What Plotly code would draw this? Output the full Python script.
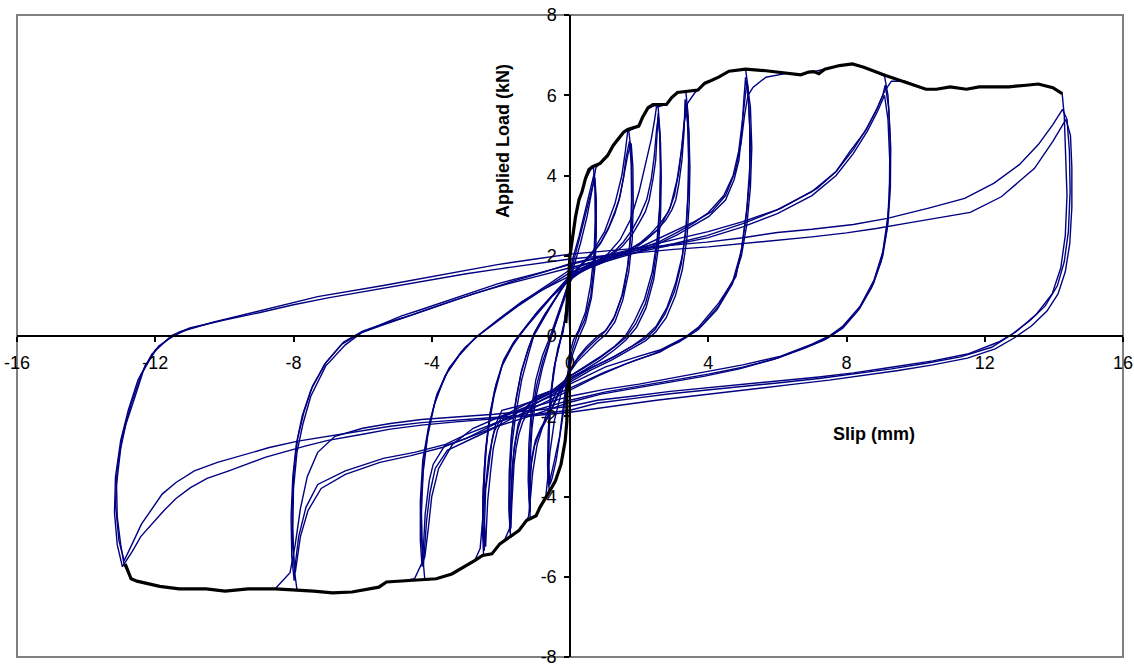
import plotly.graph_objects as go

# ---------------------------------------------------------------------------
# Cyclic slip test: load-slip hysteresis loops (slip in mm, load in kN).
# Each cycle is a list of (slip, load) readings.
# ---------------------------------------------------------------------------

# Level 1 (about +0.7 / -0.6 mm)
cycle_1a = [(0, 0), (-0.05, 1.0), (0.0, 2.0), (0.16, 2.97), (0.3, 3.5), (0.45, 3.9), (0.6, 4.15), (0.68, 4.2),
            (0.72, 3.7), (0.73, 2.9), (0.7, 2.1), (0.6, 1.3), (0.45, 0.6), (0.25, 0.15), (0.1, -0.1),
            (-0.03, -0.5), (-0.05, -0.92), (-0.09, -1.5), (-0.09, -2.12), (-0.14, -2.62), (-0.26, -3.2),
            (-0.42, -3.61), (-0.6, -3.9), (-0.63, -3.4), (-0.62, -2.6), (-0.58, -1.7), (-0.48, -0.9),
            (-0.35, -0.3), (-0.2, 0.1), (-0.1, 0.7), (0.0, 1.5)]
cycle_1b = [(0.0, 1.5), (0.07, 1.9), (0.26, 2.48), (0.45, 3.14), (0.6, 3.72), (0.7, 4.05),
            (0.74, 3.5), (0.74, 2.6), (0.7, 1.8), (0.6, 1.0), (0.42, 0.4), (0.2, 0.0), (0.05, -0.4),
            (-0.1, -1.1), (-0.2, -1.8), (-0.3, -2.5), (-0.45, -3.1), (-0.55, -3.5), (-0.62, -3.75),
            (-0.65, -3.2), (-0.63, -2.4), (-0.57, -1.5), (-0.45, -0.75), (-0.3, -0.2), (-0.17, 0.3),
            (-0.1, 0.8), (0.0, 1.4)]
cycle_1c = [(0, 1.4), (0.1, 1.85), (0.28, 2.45), (0.47, 3.1), (0.62, 3.65), (0.72, 3.95),
            (0.76, 3.4), (0.76, 2.5), (0.72, 1.7), (0.62, 0.95), (0.45, 0.35), (0.25, -0.05), (0.08, -0.45),
            (-0.08, -1.15), (-0.18, -1.85), (-0.28, -2.45), (-0.4, -3.1), (-0.52, -3.55), (-0.58, -3.7),
            (-0.62, -3.1), (-0.6, -2.3), (-0.54, -1.4), (-0.42, -0.65), (-0.28, -0.1), (-0.14, 0.45),
            (-0.05, 0.95), (0, 1.3)]

# Level 2 (about +1.75 / -1.15 mm)
cycle_2a = [(0, 1.3), (0.1, 1.7), (0.3, 2.3), (0.5, 3.0), (0.65, 3.7), (0.75, 4.2), (0.87, 4.3), (1.09, 4.5),
            (1.25, 4.75), (1.4, 4.9), (1.55, 5.08), (1.7, 5.12),
            (1.77, 4.6), (1.8, 3.7), (1.78, 2.8), (1.7, 1.9), (1.55, 1.1), (1.3, 0.5), (1.05, 0.15), (0.8, 0.0),
            (0.5, -0.25), (0.25, -0.5), (0, -0.85), (-0.25, -1.4), (-0.45, -2.1), (-0.58, -2.9), (-0.64, -3.5),
            (-0.7, -4.0), (-0.87, -4.27), (-0.98, -4.48), (-1.15, -4.55),
            (-1.18, -4.0), (-1.16, -3.2), (-1.1, -2.3), (-0.98, -1.5), (-0.8, -0.8), (-0.6, -0.2),
            (-0.45, 0.2), (-0.25, 0.75), (0, 1.45)]
cycle_2b = [(0, 1.45), (0.07, 1.56), (0.35, 1.8), (0.64, 2.06), (0.9, 2.35), (1.13, 2.73), (1.3, 3.1),
            (1.42, 3.39), (1.55, 3.95), (1.61, 4.39), (1.72, 4.85),
            (1.77, 4.3), (1.78, 3.4), (1.75, 2.5), (1.66, 1.7), (1.5, 1.0), (1.25, 0.4), (1.0, 0.1),
            (0.75, -0.1), (0.45, -0.35), (0.2, -0.6), (0, -0.85), (-0.3, -1.35), (-0.6, -1.93),
            (-0.85, -2.3), (-1.0, -2.6), (-1.1, -3.0), (-1.14, -3.34), (-1.15, -3.9), (-1.15, -4.4),
            (-1.19, -3.8), (-1.17, -2.9), (-1.1, -2.0), (-0.97, -1.25), (-0.78, -0.6), (-0.55, -0.05),
            (-0.35, 0.45), (-0.15, 0.95), (0, 1.35)]
cycle_2c = [(0, 1.35), (0.3, 1.75), (0.6, 2.0), (0.88, 2.3), (1.1, 2.65), (1.3, 3.05), (1.45, 3.5),
            (1.58, 4.1), (1.68, 4.55), (1.77, 4.8),
            (1.82, 4.2), (1.83, 3.3), (1.8, 2.4), (1.7, 1.6), (1.53, 0.9), (1.3, 0.35), (1.05, 0.05),
            (0.78, -0.15), (0.48, -0.4), (0.2, -0.65), (0, -0.9), (-0.3, -1.4), (-0.62, -2.0),
            (-0.88, -2.4), (-1.03, -2.75), (-1.12, -3.2), (-1.16, -3.7), (-1.17, -4.3),
            (-1.21, -3.6), (-1.19, -2.7), (-1.12, -1.85), (-0.99, -1.1), (-0.8, -0.5), (-0.57, 0.0),
            (-0.37, 0.5), (-0.17, 1.0), (0, 1.4)]

# Level 3 (about +2.55 / -1.72 mm)
cycle_3a = [(0, 1.4), (0.3, 1.75), (0.65, 2.1), (1.0, 2.6), (1.3, 3.3), (1.5, 4.0), (1.6, 4.6), (1.67, 5.1),
            (1.99, 5.23), (2.1, 5.45), (2.26, 5.67), (2.45, 5.74), (2.55, 5.72),
            (2.6, 5.1), (2.62, 4.2), (2.6, 3.3), (2.52, 2.4), (2.38, 1.6), (2.15, 0.9), (1.85, 0.35), (1.6, 0.0),
            (1.3, -0.25), (0.9, -0.5), (0.45, -0.75), (0, -1.0), (-0.4, -1.4), (-0.7, -2.0), (-0.95, -2.7),
            (-1.08, -3.4), (-1.14, -4.0), (-1.2, -4.5), (-1.26, -4.6), (-1.48, -4.85), (-1.72, -5.02),
            (-1.75, -4.5), (-1.74, -3.6), (-1.68, -2.7), (-1.56, -1.9), (-1.4, -1.1), (-1.2, -0.45),
            (-1.05, 0.0), (-0.75, 0.45), (-0.4, 0.95), (0, 1.55)]
cycle_3b = [(0, 1.55), (0.26, 1.65), (0.6, 1.8), (0.93, 1.9), (1.25, 2.05), (1.51, 2.23), (1.78, 2.5),
            (2.0, 2.82), (2.18, 3.1), (2.29, 3.39), (2.4, 3.9), (2.48, 4.39), (2.52, 5.0), (2.55, 5.55),
            (2.6, 5.0), (2.62, 4.1), (2.6, 3.2), (2.53, 2.3), (2.4, 1.5), (2.18, 0.8), (1.9, 0.3), (1.6, -0.05),
            (1.25, -0.3), (0.85, -0.55), (0.4, -0.8), (0, -1.0), (-0.5, -1.35), (-1.0, -1.51), (-1.25, -1.8),
            (-1.39, -2.01), (-1.5, -2.3), (-1.57, -2.6), (-1.64, -3.0), (-1.68, -3.34), (-1.7, -4.0),
            (-1.72, -4.6), (-1.73, -4.9),
            (-1.77, -4.3), (-1.76, -3.4), (-1.7, -2.5), (-1.58, -1.7), (-1.42, -0.95), (-1.22, -0.35),
            (-1.05, 0.05), (-0.75, 0.5), (-0.4, 0.95), (0, 1.5)]
cycle_3c = [(0, 1.5), (0.3, 1.62), (0.65, 1.78), (1.0, 1.95), (1.3, 2.12), (1.55, 2.35), (1.8, 2.65),
            (2.02, 3.0), (2.22, 3.4), (2.35, 3.9), (2.44, 4.5), (2.5, 5.1), (2.55, 5.45),
            (2.62, 4.8), (2.64, 3.9), (2.62, 3.0), (2.55, 2.15), (2.42, 1.4), (2.2, 0.7), (1.93, 0.22),
            (1.62, -0.1), (1.28, -0.35), (0.88, -0.6), (0.42, -0.85), (0, -1.05), (-0.5, -1.4), (-0.95, -1.6),
            (-1.22, -1.9), (-1.37, -2.15), (-1.48, -2.45), (-1.56, -2.8), (-1.62, -3.2), (-1.66, -3.7),
            (-1.69, -4.3), (-1.71, -4.8),
            (-1.75, -4.1), (-1.73, -3.2), (-1.67, -2.3), (-1.56, -1.55), (-1.4, -0.85), (-1.2, -0.3),
            (-1.02, 0.1), (-0.72, 0.55), (-0.38, 1.0), (0, 1.45)]

# Level 4 (about +3.35 / -2.45 mm)
cycle_4a = [(0, 1.45), (0.35, 1.65), (0.75, 1.85), (1.1, 2.05), (1.45, 2.4), (1.75, 2.9), (2.0, 3.6),
            (2.2, 4.3), (2.35, 4.9), (2.45, 5.4), (2.5, 5.7), (2.79, 5.77), (2.95, 5.95), (3.11, 6.07), (3.35, 6.1),
            (3.42, 5.5), (3.45, 4.6), (3.43, 3.7), (3.37, 2.8), (3.25, 2.0), (3.05, 1.3), (2.8, 0.7), (2.5, 0.25),
            (2.2, 0.0), (1.8, -0.25), (1.3, -0.5), (0.7, -0.75), (0, -1.05), (-0.5, -1.35), (-1.0, -1.55),
            (-1.3, -1.8), (-1.5, -2.2), (-1.62, -2.8), (-1.68, -3.5), (-1.72, -4.2), (-1.75, -4.8),
            (-1.9, -5.1), (-2.03, -5.18), (-2.26, -5.43), (-2.5, -5.47),
            (-2.53, -4.9), (-2.52, -4.0), (-2.46, -3.1), (-2.36, -2.3), (-2.2, -1.5), (-1.97, -0.75),
            (-1.68, -0.27), (-1.39, 0.1), (-1.0, 0.5), (-0.5, 1.0), (0, 1.4)]
cycle_4b = [(0, 1.4), (0.26, 1.56), (0.6, 1.72), (0.93, 1.82), (1.25, 1.93), (1.61, 2.06), (1.9, 2.2),
            (2.19, 2.39), (2.5, 2.62), (2.77, 2.89), (2.95, 3.15), (3.06, 3.39), (3.15, 3.8), (3.24, 4.39),
            (3.3, 5.1), (3.33, 5.9),
            (3.4, 5.3), (3.43, 4.4), (3.41, 3.5), (3.35, 2.6), (3.22, 1.8), (3.02, 1.1), (2.75, 0.55),
            (2.45, 0.15), (2.15, -0.08), (1.7, -0.3), (1.2, -0.55), (0.6, -0.8), (0, -1.1), (-0.5, -1.4),
            (-1.0, -1.6), (-1.5, -1.75), (-1.97, -1.85), (-2.15, -2.2), (-2.26, -2.6), (-2.34, -3.17),
            (-2.44, -3.83), (-2.47, -4.6), (-2.48, -5.35),
            (-2.52, -4.7), (-2.51, -3.8), (-2.45, -2.9), (-2.34, -2.1), (-2.18, -1.35), (-1.95, -0.7),
            (-1.66, -0.22), (-1.37, 0.12), (-0.98, 0.55), (-0.5, 1.02), (0, 1.45)]
cycle_4c = [(0, 1.45), (0.3, 1.6), (0.65, 1.76), (1.0, 1.88), (1.35, 2.0), (1.7, 2.14), (2.0, 2.3),
            (2.3, 2.52), (2.6, 2.8), (2.85, 3.1), (3.02, 3.5), (3.15, 4.1), (3.25, 4.8), (3.32, 5.4), (3.36, 5.8),
            (3.44, 5.1), (3.47, 4.2), (3.45, 3.3), (3.38, 2.4), (3.25, 1.65), (3.05, 1.0), (2.78, 0.45),
            (2.48, 0.1), (2.18, -0.12), (1.72, -0.35), (1.2, -0.6), (0.6, -0.85), (0, -1.15), (-0.5, -1.45),
            (-1.0, -1.68), (-1.5, -1.85), (-1.9, -2.0), (-2.1, -2.35), (-2.22, -2.8), (-2.3, -3.4),
            (-2.38, -4.1), (-2.42, -4.8), (-2.44, -5.25),
            (-2.49, -4.5), (-2.48, -3.6), (-2.42, -2.7), (-2.31, -1.9), (-2.14, -1.2), (-1.92, -0.6),
            (-1.63, -0.15), (-1.34, 0.18), (-0.95, 0.6), (-0.48, 1.05), (0, 1.5)]

# Level 5 (about +5.1 / -4.2 mm)
cycle_5a = [(0, 1.5), (0.5, 1.7), (1.0, 1.9), (1.6, 2.1), (2.2, 2.4), (2.6, 2.7), (2.9, 3.2), (3.1, 3.9),
            (3.22, 4.6), (3.3, 5.3), (3.4, 5.8), (3.6, 6.05), (3.7, 6.13), (3.9, 6.3), (4.07, 6.36), (4.3, 6.45),
            (4.6, 6.6), (5.08, 6.65),
            (5.15, 6.2), (5.2, 5.2), (5.2, 4.2), (5.12, 3.2), (4.97, 2.2), (4.8, 1.48), (4.3, 0.82),
            (3.73, 0.23), (3.35, -0.02), (2.6, -0.35), (2.0, -0.5), (1.03, -0.77), (0, -1.2), (-0.8, -1.5),
            (-1.5, -1.8), (-1.97, -2.0), (-2.2, -2.4), (-2.35, -3.0), (-2.45, -3.8), (-2.52, -4.6),
            (-2.6, -5.3), (-2.76, -5.6), (-3.09, -5.76), (-3.42, -5.93), (-3.87, -6.05), (-4.2, -6.08),
            (-4.27, -5.4), (-4.3, -4.4), (-4.25, -3.4), (-4.12, -2.5), (-3.92, -1.7), (-3.62, -1.0),
            (-3.22, -0.5), (-2.75, -0.05), (-2.2, 0.3), (-1.5, 0.75), (-0.8, 1.15), (0, 1.5)]
cycle_5b = [(0, 1.5), (1.0, 1.85), (2.0, 2.1), (2.58, 2.31), (3.1, 2.52), (3.54, 2.73), (4.02, 2.98),
            (4.5, 3.39), (4.75, 3.9), (4.89, 4.39), (4.98, 5.2), (5.03, 5.9), (5.08, 6.45),
            (5.16, 5.9), (5.22, 4.9), (5.2, 3.9), (5.1, 3.0), (4.95, 2.1), (4.72, 1.4), (4.3, 0.75), (3.8, 0.25),
            (3.3, -0.05), (2.6, -0.4), (1.9, -0.6), (1.0, -0.9), (0, -1.3), (-0.8, -1.6), (-1.6, -1.95),
            (-2.4, -2.3), (-3.0, -2.55), (-3.63, -2.74), (-3.96, -3.2), (-4.07, -3.6), (-4.19, -4.44),
            (-4.24, -5.26), (-4.28, -5.75),
            (-4.33, -5.1), (-4.33, -4.1), (-4.26, -3.1), (-4.1, -2.3), (-3.88, -1.55), (-3.55, -0.9),
            (-3.15, -0.4), (-2.7, -0.02), (-2.1, 0.4), (-1.4, 0.85), (-0.7, 1.2), (0, 1.58)]
cycle_5c = [(0, 1.58), (1.0, 1.9), (2.0, 2.16), (2.6, 2.36), (3.1, 2.58), (3.55, 2.8), (4.0, 3.07),
            (4.45, 3.5), (4.72, 4.0), (4.88, 4.6), (4.98, 5.3), (5.06, 5.95), (5.12, 6.35),
            (5.22, 5.7), (5.26, 4.7), (5.22, 3.7), (5.12, 2.8), (4.96, 2.0), (4.7, 1.3), (4.25, 0.65),
            (3.7, 0.15), (3.15, -0.15), (2.4, -0.45), (1.6, -0.7), (0.8, -1.0), (0, -1.35), (-0.8, -1.68),
            (-1.6, -2.02), (-2.4, -2.38), (-3.0, -2.62), (-3.55, -2.85), (-3.9, -3.3), (-4.05, -3.9),
            (-4.15, -4.6), (-4.2, -5.3), (-4.24, -5.7),
            (-4.3, -5.0), (-4.3, -4.0), (-4.22, -3.0), (-4.07, -2.2), (-3.85, -1.45), (-3.5, -0.8),
            (-3.05, -0.3), (-2.6, 0.05), (-2.0, 0.45), (-1.3, 0.9), (-0.6, 1.3), (0, 1.65)]

# Level 6 (about +9.1 / -8.0 mm)
cycle_6a = [(0, 1.65), (1.0, 1.95), (2.0, 2.2), (3.0, 2.6), (3.6, 2.85), (4.1, 3.1), (4.5, 3.5), (4.78, 4.1),
            (4.95, 4.8), (5.05, 5.5), (5.15, 6.0), (5.3, 6.2), (5.67, 6.45), (6.3, 6.55), (6.68, 6.51),
            (7.05, 6.59), (7.37, 6.65), (7.8, 6.74), (8.17, 6.78), (8.5, 6.7), (9.1, 6.48),
            (9.2, 6.0), (9.26, 5.0), (9.26, 4.0), (9.2, 3.0), (9.05, 2.1), (8.8, 1.4), (8.4, 0.75), (7.9, 0.25),
            (7.5, 0.0), (7.0, -0.2), (6.1, -0.5), (5.0, -0.72), (4.0, -0.88), (3.0, -1.05), (2.0, -1.2),
            (1.0, -1.33), (0, -1.5), (-1.0, -1.75), (-2.0, -2.0), (-2.8, -2.3), (-3.4, -2.7), (-3.8, -3.3),
            (-4.0, -4.0), (-4.1, -4.8), (-4.2, -5.5), (-4.5, -6.05), (-4.76, -6.09), (-5.31, -6.13),
            (-5.53, -6.26), (-5.87, -6.32), (-6.31, -6.38), (-6.87, -6.4), (-7.42, -6.36), (-7.9, -6.32),
            (-7.98, -5.8), (-8.02, -4.8), (-8.0, -3.8), (-7.9, -2.9), (-7.73, -2.2), (-7.5, -1.5),
            (-7.07, -0.75), (-6.5, -0.22), (-6.0, 0.1), (-5.43, 0.3), (-4.87, 0.5), (-4.3, 0.66),
            (-3.2, 0.98), (-2.1, 1.3), (-1.0, 1.55), (0, 1.78)]
cycle_6b = [(0, 1.78), (1.0, 1.98), (1.83, 2.12), (3.0, 2.3), (3.96, 2.5), (5.0, 2.8), (6.1, 3.18),
            (7.15, 3.68), (7.7, 4.1), (8.1, 4.6), (8.54, 5.1), (8.85, 5.6), (9.05, 6.0), (9.12, 6.25),
            (9.22, 5.7), (9.28, 4.7), (9.27, 3.7), (9.2, 2.8), (9.05, 2.0), (8.78, 1.3), (8.38, 0.68),
            (7.9, 0.2), (7.45, -0.05), (6.9, -0.25), (6.0, -0.55), (5.0, -0.78), (4.0, -0.95), (3.0, -1.1),
            (2.0, -1.25), (1.0, -1.4), (0, -1.6), (-1.0, -1.85), (-2.1, -2.15), (-3.0, -2.45), (-3.6, -2.7),
            (-4.5, -2.9), (-5.4, -3.05), (-6.5, -3.36), (-7.3, -3.7), (-7.64, -4.27), (-7.85, -5.0),
            (-7.95, -5.7), (-7.98, -6.1),
            (-8.05, -5.5), (-8.07, -4.5), (-8.02, -3.5), (-7.92, -2.7), (-7.75, -2.0), (-7.5, -1.35),
            (-7.1, -0.7), (-6.6, -0.2), (-6.05, 0.08), (-5.4, 0.28), (-4.8, 0.45), (-3.8, 0.75),
            (-2.8, 1.05), (-1.8, 1.3), (-0.9, 1.5), (0, 1.7)]
cycle_6c = [(0, 1.7), (1.0, 1.92), (2.0, 2.1), (3.0, 2.28), (4.0, 2.45), (5.0, 2.72), (6.0, 3.05),
            (7.0, 3.5), (7.7, 4.0), (8.2, 4.55), (8.6, 5.1), (8.9, 5.6), (9.1, 6.0),
            (9.2, 5.4), (9.25, 4.4), (9.24, 3.4), (9.16, 2.6), (9.0, 1.85), (8.72, 1.2), (8.3, 0.6),
            (7.8, 0.15), (7.35, -0.1), (6.8, -0.3), (5.9, -0.58), (4.9, -0.82), (3.9, -1.0), (2.9, -1.15),
            (1.9, -1.3), (0.9, -1.45), (0, -1.65), (-1.0, -1.95), (-2.1, -2.25), (-3.0, -2.55), (-3.7, -2.78),
            (-4.6, -2.98), (-5.5, -3.15), (-6.5, -3.45), (-7.2, -3.8), (-7.58, -4.35), (-7.8, -5.0),
            (-7.9, -5.6), (-7.95, -5.9),
            (-8.02, -5.3), (-8.04, -4.3), (-7.98, -3.3), (-7.88, -2.55), (-7.7, -1.9), (-7.45, -1.25),
            (-7.05, -0.65), (-6.55, -0.15), (-6.0, 0.12), (-5.3, 0.33), (-4.6, 0.52), (-3.6, 0.82),
            (-2.6, 1.1), (-1.6, 1.38), (-0.8, 1.58), (0, 1.8)]

# Level 7 (about +14.3 / -13.0 mm)
cycle_7a = [(0, 1.8), (1.0, 2.0), (2.0, 2.2), (3.0, 2.4), (4.0, 2.6), (5.0, 2.85), (6.0, 3.15), (7.0, 3.6),
            (7.7, 4.1), (8.2, 4.65), (8.6, 5.2), (8.9, 5.7), (9.1, 6.1), (9.3, 6.35), (9.7, 6.35),
            (10.3, 6.15), (10.6, 6.15), (11.0, 6.21), (11.47, 6.15), (11.84, 6.21), (12.7, 6.21),
            (13.2, 6.25), (13.55, 6.28), (13.97, 6.19), (14.24, 6.04),
            (14.3, 5.5), (14.35, 4.5), (14.38, 3.5), (14.33, 2.5), (14.2, 1.7), (13.95, 1.05), (13.5, 0.55),
            (12.9, 0.1), (12.4, -0.15), (11.5, -0.45), (10.5, -0.62), (9.3, -0.78), (8.2, -0.92),
            (7.2, -1.02), (6.0, -1.12), (5.0, -1.2), (4.0, -1.28), (2.9, -1.38), (1.8, -1.5), (0.8, -1.6),
            (0, -1.75), (-1.0, -1.85), (-2.2, -1.95), (-3.3, -2.02), (-4.3, -2.08), (-5.2, -2.18),
            (-6.0, -2.3), (-6.8, -2.5), (-7.3, -2.9), (-7.6, -3.5), (-7.8, -4.3), (-7.95, -5.2),
            (-8.1, -5.9), (-8.53, -6.3), (-9.31, -6.3), (-9.98, -6.36), (-10.53, -6.3), (-11.31, -6.3),
            (-11.87, -6.24), (-12.53, -6.11), (-12.7, -6.05), (-12.9, -5.7),
            (-13.0, -5.2), (-13.1, -4.5), (-13.12, -3.7), (-13.0, -2.8), (-12.85, -2.2), (-12.6, -1.55),
            (-12.3, -0.75), (-11.9, -0.25), (-11.3, 0.1), (-10.3, 0.35), (-9.0, 0.62), (-7.3, 0.98),
            (-5.4, 1.26), (-3.8, 1.52), (-2.1, 1.78), (-1.0, 1.92), (0, 2.04)]
cycle_7b = [(0, 2.04), (1.0, 2.12), (2.0, 2.2), (3.0, 2.28), (3.96, 2.34), (5.0, 2.45), (6.0, 2.58),
            (7.0, 2.66), (8.2, 2.78), (9.18, 2.93), (10.35, 3.18), (11.42, 3.43), (12.27, 3.81), (13.0, 4.27),
            (13.55, 4.77), (13.97, 5.27), (14.25, 5.65),
            (14.38, 5.4), (14.45, 4.6), (14.47, 3.6), (14.42, 2.6), (14.3, 1.85), (14.1, 1.25), (13.75, 0.75),
            (13.3, 0.38), (12.75, 0.02), (12.2, -0.28), (11.3, -0.52), (10.3, -0.68), (9.3, -0.82),
            (8.2, -0.95), (7.2, -1.06), (6.0, -1.17), (5.0, -1.26), (4.0, -1.35), (2.9, -1.44), (1.8, -1.56),
            (0.8, -1.67), (0, -1.85), (-1.0, -1.95), (-2.2, -2.03), (-3.3, -2.1), (-4.3, -2.16),
            (-5.2, -2.25), (-6.0, -2.36), (-7.0, -2.5), (-7.87, -2.62), (-8.7, -2.78), (-9.42, -2.95),
            (-10.2, -3.15), (-10.87, -3.36), (-11.4, -3.65), (-11.8, -3.94), (-12.1, -4.3), (-12.4, -4.69),
            (-12.65, -5.15), (-12.9, -5.6),
            (-13.05, -5.1), (-13.15, -4.2), (-13.1, -3.3), (-12.95, -2.5), (-12.7, -1.7), (-12.4, -0.95),
            (-12.0, -0.35), (-11.5, 0.02), (-11.0, 0.2), (-10.0, 0.4), (-9.0, 0.58), (-8.0, 0.78),
            (-7.0, 0.95), (-6.0, 1.1), (-5.0, 1.25), (-4.0, 1.4), (-3.0, 1.55), (-2.0, 1.68), (-1.0, 1.8),
            (0, 1.92)]
cycle_7c = [(0, 1.92), (1.0, 2.0), (2.0, 2.08), (3.0, 2.16), (4.0, 2.22), (5.0, 2.3), (6.0, 2.39),
            (7.0, 2.47), (8.0, 2.57), (8.86, 2.68), (9.8, 2.82), (10.7, 2.95), (11.58, 3.08), (12.48, 3.47),
            (13.0, 3.85), (13.44, 4.18), (13.97, 4.85), (14.35, 5.4),
            (14.48, 5.0), (14.52, 4.2), (14.52, 3.2), (14.46, 2.3), (14.33, 1.6), (14.12, 1.05), (13.8, 0.62),
            (13.35, 0.25), (12.85, -0.05), (12.3, -0.32), (11.5, -0.55), (10.5, -0.72), (9.5, -0.86),
            (8.5, -0.98), (7.5, -1.1), (6.5, -1.2), (5.5, -1.3), (4.5, -1.4), (3.5, -1.5), (2.5, -1.6),
            (1.5, -1.72), (0.6, -1.83), (0, -1.9), (-1.0, -1.98), (-2.2, -2.06), (-3.3, -2.14), (-4.3, -2.22),
            (-5.2, -2.32), (-6.0, -2.45), (-7.0, -2.6), (-7.64, -2.74), (-8.8, -3.02), (-9.87, -3.36),
            (-10.5, -3.55), (-10.98, -3.78), (-11.4, -4.05), (-11.76, -4.36), (-12.1, -4.7), (-12.42, -5.0),
            (-12.65, -5.35), (-12.85, -5.6), (-12.95, -5.75),
            (-13.1, -5.2), (-13.18, -4.4), (-13.15, -3.5), (-13.0, -2.6), (-12.78, -1.85), (-12.5, -1.1),
            (-12.1, -0.45), (-11.6, -0.05), (-11.1, 0.15)]

# Envelope (first-cycle peaks), positive and negative branches
envelope_pos = [(-0.12, 0.32), (-0.05, 1.2), (0.0, 2.0), (0.16, 2.97), (0.26, 3.4), (0.35, 3.6), (0.45, 3.93),
                (0.55, 4.15), (0.65, 4.22), (0.87, 4.3), (1.09, 4.5), (1.25, 4.75), (1.4, 4.9), (1.55, 5.08),
                (1.67, 5.15), (1.99, 5.23), (2.1, 5.45), (2.26, 5.69), (2.4, 5.77), (2.79, 5.77), (2.95, 5.95),
                (3.11, 6.07), (3.7, 6.13), (3.9, 6.3), (4.07, 6.36), (4.3, 6.45), (4.6, 6.6), (5.08, 6.65),
                (5.67, 6.61), (6.3, 6.55), (6.68, 6.51), (6.9, 6.58), (7.05, 6.59), (7.2, 6.54), (7.37, 6.65),
                (7.8, 6.74), (8.17, 6.78), (8.5, 6.7), (9.13, 6.49), (10.3, 6.15), (10.6, 6.15), (11.0, 6.21),
                (11.47, 6.15), (11.84, 6.21), (12.7, 6.21), (13.2, 6.25), (13.55, 6.28), (13.97, 6.19),
                (14.24, 6.04)]
envelope_neg = [(-0.03, -0.92), (-0.09, -1.5), (-0.09, -2.12), (-0.14, -2.62), (-0.26, -3.2), (-0.42, -3.61),
                (-0.64, -3.94), (-0.87, -4.27), (-0.98, -4.48), (-1.26, -4.6), (-1.48, -4.85), (-1.76, -5.02),
                (-2.03, -5.18), (-2.26, -5.43), (-2.53, -5.47), (-2.76, -5.6), (-3.09, -5.76), (-3.42, -5.93),
                (-3.87, -6.05), (-4.76, -6.09), (-5.31, -6.13), (-5.53, -6.26), (-5.87, -6.32), (-6.31, -6.38),
                (-6.87, -6.4), (-7.42, -6.36), (-8.53, -6.3), (-9.31, -6.3), (-9.98, -6.36), (-10.53, -6.3),
                (-11.31, -6.3), (-11.87, -6.24), (-12.53, -6.11), (-12.7, -6.05), (-12.87, -5.68)]

# Axis ticks (labels written with a plain hyphen for negatives)
slip_ticks = [-16, -12, -8, -4, 0, 4, 8, 12, 16]
slip_tick_text = ["-16", "-12", "-8", "-4", "0", "4", "8", "12", "16"]
load_ticks = [-8, -6, -4, -2, 0, 2, 4, 6, 8]
load_tick_text = ["-8", "-6", "-4", "-2", "0", "2", "4", "6", "8"]

cycles = [cycle_1a, cycle_1b, cycle_1c, cycle_2a, cycle_2b, cycle_2c, cycle_3a, cycle_3b, cycle_3c,
          cycle_4a, cycle_4b, cycle_4c, cycle_5a, cycle_5b, cycle_5c, cycle_6a, cycle_6b, cycle_6c,
          cycle_7a, cycle_7b, cycle_7c]

FONT = "Arial, 'Liberation Sans', sans-serif"
fig = go.Figure()

for cyc in cycles:
    xs, ys = zip(*cyc)
    fig.add_trace(go.Scatter(x=list(xs), y=list(ys), mode="lines",
                             line=dict(color="#000080", width=1.4), hoverinfo="skip"))

for env in (envelope_pos, envelope_neg):
    xs, ys = zip(*env)
    fig.add_trace(go.Scatter(x=list(xs), y=list(ys), mode="lines",
                             line=dict(color="black", width=3.2), hoverinfo="skip"))

axis_common = dict(showgrid=False, zeroline=False, showline=True, linecolor="black", linewidth=1.5,
                   ticks="outside", ticklen=5, tickwidth=1.5, tickcolor="black",
                   tickfont=dict(family=FONT, size=18, color="black"),
                   anchor="free", position=0.5, automargin=False, tickmode="array")

fig.update_layout(
    width=1134, height=668,
    margin=dict(l=17, r=11, t=15, b=11, pad=0, autoexpand=False),
    paper_bgcolor="white", plot_bgcolor="white",
    showlegend=False,
    xaxis=dict(range=[-16, 16], tickvals=slip_ticks, ticktext=slip_tick_text, ticklabelstandoff=6,
               **axis_common),
    yaxis=dict(range=[-8, 8], tickvals=load_ticks, ticktext=load_tick_text, ticklabelstandoff=4,
               **axis_common),
    shapes=[dict(type="rect", xref="paper", yref="paper", x0=0, x1=1, y0=0, y1=1,
                 line=dict(color="#808080", width=2), layer="below")],
    annotations=[
        dict(text="<b>Applied Load (kN)</b>", xref="paper", yref="paper", x=0.4399, y=0.803,
             textangle=-90, showarrow=False, font=dict(family=FONT, size=18, color="black"),
             xanchor="center", yanchor="middle"),
        dict(text="<b>Slip (mm)</b>", xref="paper", yref="paper", x=0.7749, y=0.3481,
             showarrow=False, font=dict(family=FONT, size=18, color="black"),
             xanchor="center", yanchor="middle"),
    ],
)

fig.write_html("out.html")
